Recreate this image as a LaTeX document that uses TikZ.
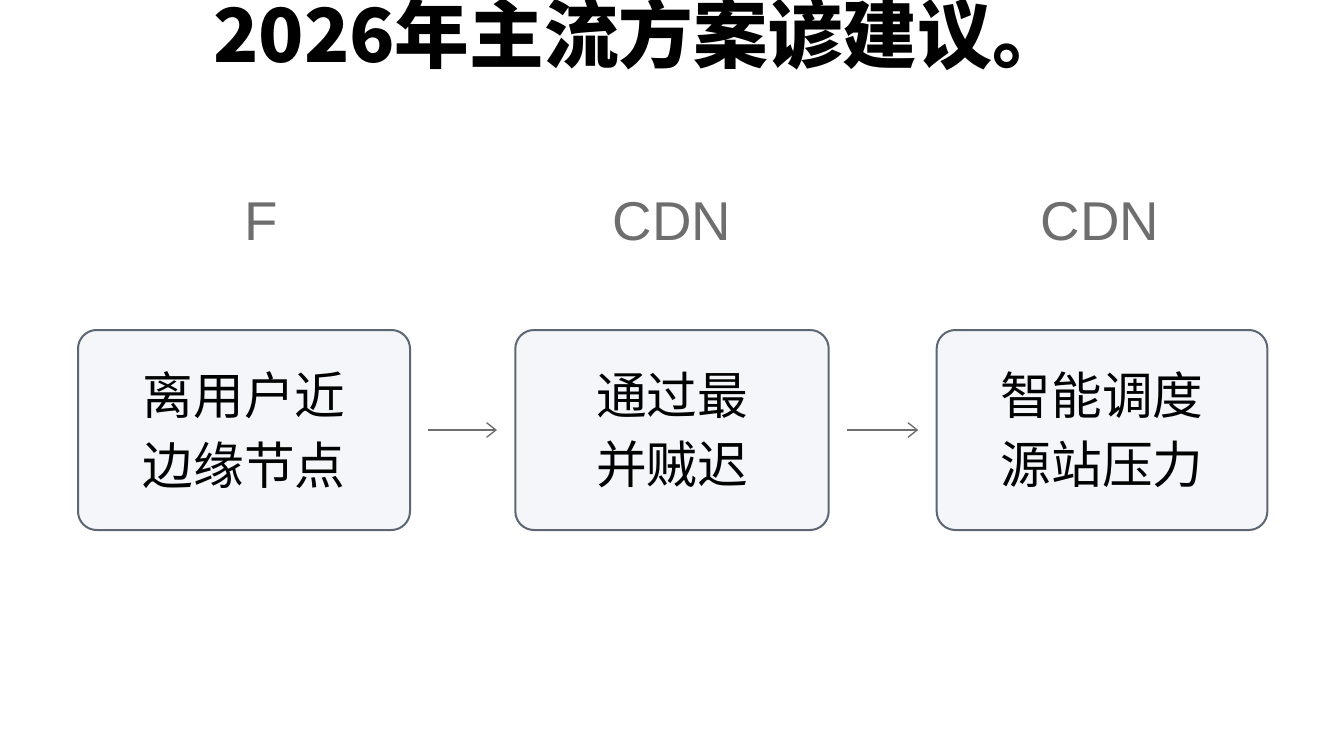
\documentclass[tikz,border=0pt]{standalone}
\usepackage{fontspec}
\setmainfont{Liberation Sans}
\newfontfamily\cjk{Noto Sans CJK SC}
\usetikzlibrary{positioning,arrows.meta}
\definecolor{boxfill}{HTML}{F4F6FA}
\definecolor{boxline}{HTML}{5C6773}
\definecolor{tagcol}{HTML}{6E6E6E}
\begin{document}
\begin{tikzpicture}[x=0.75pt,y=0.75pt,yscale=-1,xscale=1,
  stage/.style={draw=boxline,line width=1.5pt,fill=boxfill,rounded corners=14pt,
    minimum height=150pt,align=center,
    font=\cjk\fontsize{38}{52}\selectfont},
  tag/.style={text=tagcol,font=\fontsize{41}{44}\selectfont},
  flow/.style={-{Straight Barb[length=7pt,width=11pt]},draw=tagcol,line width=1pt}]
  \useasboundingbox[fill=white] (0,0) rectangle (1344,750);
  % title
  \node (title) at (640,34) {\cjk\bfseries\fontsize{56}{60}\selectfont 2026年主流方案谚建议。};
  % boxes
  \node[stage,minimum width=249pt] (edge) at (244,430) {离用户近\\边缘节点};
  \node[stage,minimum width=235pt] (route) at (672,430) {通过最\\并贼迟};
  \node[stage,minimum width=248pt] (sched) at (1102,430) {智能调度\\源站压力};
  % tags
  \node[tag] (tagf) at (261,222) {F};
  \node[tag] (tagc1) at (672,222) {CDN};
  \node[tag] (tagc2) at (1100,222) {CDN};
  % arrows
  \draw[flow] ([xshift=13pt]edge.east) -- ([xshift=-13pt]route.west);
  \draw[flow] ([xshift=13pt]route.east) -- ([xshift=-13pt]sched.west);
\end{tikzpicture}
\end{document}
